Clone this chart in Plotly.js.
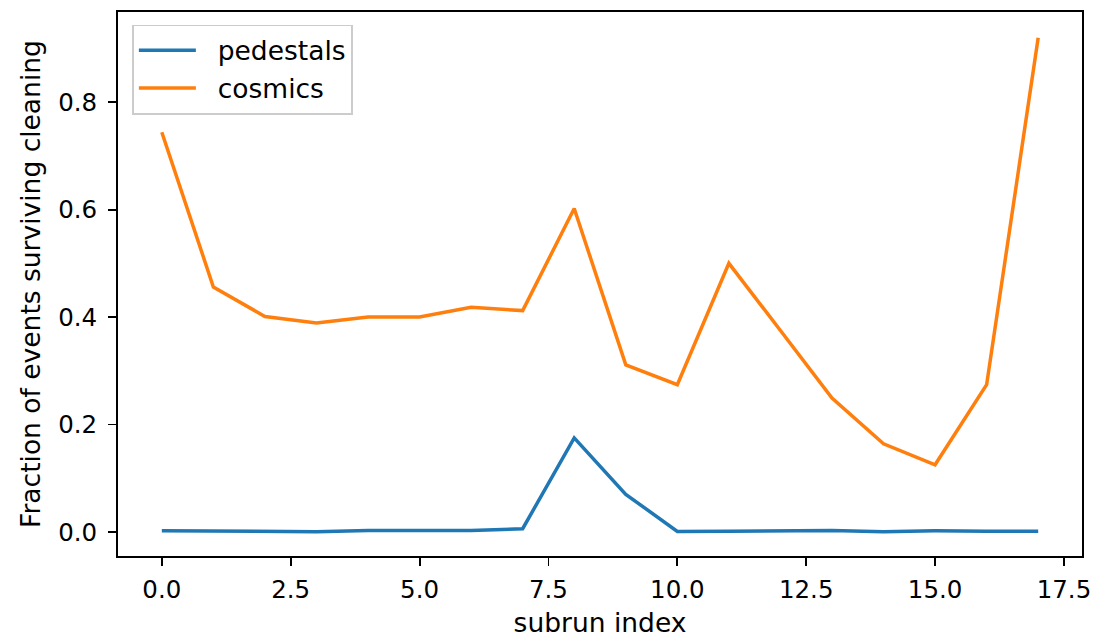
<!DOCTYPE html>
<html>
<head>
<meta charset="utf-8">
<script src="https://cdn.plot.ly/plotly-3.0.1.min.js"></script>
<style>
  html, body { margin: 0; padding: 0; background: #ffffff; }
  #chart { width: 1098px; height: 639px; }
</style>
</head>
<body>
<div id="chart"></div>
<script>
const subrunIndex = [0, 1, 2, 3, 4, 5, 6, 7, 8, 9, 10, 11, 12, 13, 14, 15, 16, 17];
const pedestals = [0.002, 0.002, 0.002, 0.0005, 0.0025, 0.0025, 0.0025, 0.006, 0.175, 0.070, 0.001, 0.0015, 0.0025, 0.0025, 0.0005, 0.002, 0.0015, 0.0015];
const cosmics = [0.744, 0.456, 0.401, 0.389, 0.400, 0.400, 0.418, 0.412, 0.602, 0.311, 0.274, 0.500, 0.375, 0.249, 0.164, 0.125, 0.274, 0.920];
const seriesNames = ["pedestals", "cosmics"];
const xTitle = "subrun index";
const yTitle = "Fraction of events surviving cleaning";

const FONT = "DejaVu Sans, sans-serif";
const GAP = "\u00a0\u00a0";

const traces = [
  {
    x: subrunIndex, y: pedestals, name: GAP + seriesNames[0], type: "scatter", mode: "lines",
    line: { color: "#1f77b4", width: 3.5 }, legendgroup: "a"
  },
  {
    x: subrunIndex, y: cosmics, name: GAP + seriesNames[1], type: "scatter", mode: "lines",
    line: { color: "#ff7f0e", width: 3.5 }, legendgroup: "b"
  }
];

const axisCommon = {
  showline: true, linecolor: "#000000", linewidth: 1.9, mirror: true,
  ticks: "outside", ticklen: 8, tickwidth: 1.9, tickcolor: "#000000",
  showgrid: false, zeroline: false,
  tickfont: { family: FONT, size: 24.5, color: "#000000" },
  tickformat: ".1f"
};

const layout = {
  width: 1098, height: 639,
  margin: { l: 118, r: 16, t: 12, b: 83, pad: 0 },
  paper_bgcolor: "#ffffff", plot_bgcolor: "#ffffff",
  font: { family: FONT, size: 24.5, color: "#000000" },
  showlegend: true,
  legend: {
    x: 0.0145, y: 0.977, xanchor: "left", yanchor: "top",
    bgcolor: "rgba(255,255,255,0.8)", bordercolor: "#cccccc", borderwidth: 1.9,
    font: { family: FONT, size: 26.5, color: "#000000" },
    traceorder: "grouped", tracegroupgap: 0.5, itemwidth: 57
  },
  xaxis: Object.assign({}, axisCommon, {
    range: [-0.85, 17.85], tick0: 0, dtick: 2.5,
    ticklabelstandoff: 3,
    title: { text: xTitle, font: { family: FONT, size: 26.5, color: "#000000" }, standoff: 10 }
  }),
  yaxis: Object.assign({}, axisCommon, {
    range: [-0.0448, 0.9678], tick0: 0, dtick: 0.2,
    ticklabelstandoff: 6,
    title: { text: yTitle, font: { family: FONT, size: 26.5, color: "#000000" }, standoff: 10 }
  })
};

Plotly.newPlot("chart", traces, layout, { staticPlot: true, displayModeBar: false });
</script>
</body>
</html>
